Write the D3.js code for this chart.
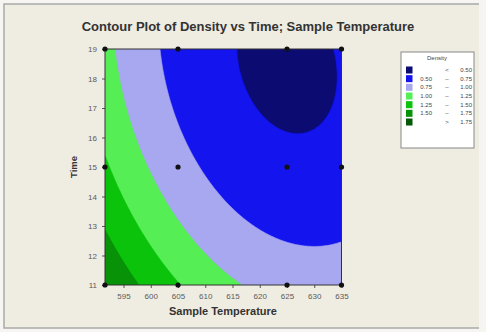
<!DOCTYPE html>
<html>
<head>
<meta charset="utf-8">
<script src="https://cdn.jsdelivr.net/npm/d3@7"></script>
<style>
  html, body { margin: 0; padding: 0; background: #f6f5f1; }
  svg { display: block; }
  text { font-family: "Liberation Sans", Arial, sans-serif; }
</style>
</head>
<body>
<svg id="chart" width="486" height="332"></svg>
<script>
// ---- data ----
const chartTitle = "Contour Plot of Density vs Time; Sample Temperature";
const xLabel = "Sample Temperature";
const yLabel = "Time";
const temperatureDomain = [591.6, 635];
const timeDomain = [11, 19];
const xTickValues = [595, 600, 605, 610, 615, 620, 625, 630, 635];
const yTickValues = [11, 12, 13, 14, 15, 16, 17, 18, 19];
const designTemperatures = [591.6, 605, 625, 635];
const designTimes = [11, 15, 19];
// fitted response surface (centered quadratic)
const surfaceCenter = [625.0, 18.58];            // [temperature, time]
const surfaceCoefficients = [0.455, 0.000557, 0.00785, 0.000887]; // const, dT^2, dt^2, dT*dt
const contourLevels = [0.5, 0.75, 1.0, 1.25, 1.5, 1.75];
const levelColors = ["#0b0b72", "#1414ee", "#a8a8f0", "#55ef55", "#0cc30c", "#079207", "#045a04"];
const legendTitle = "Density";
const legendLeft  = ["", "0.50", "0.75", "1.00", "1.25", "1.50", ""];
const legendMid   = ["<", "\u2013", "\u2013", "\u2013", "\u2013", "\u2013", ">"];
const legendRight = ["0.50", "0.75", "1.00", "1.25", "1.50", "1.75", "1.75"];

// ---- layout ----
const svg = d3.select("#chart");
const plot = { x0: 105, y0: 49, x1: 341.5, y1: 285 };
const pw = plot.x1 - plot.x0, ph = plot.y1 - plot.y0;

// outer frame
svg.append("rect").attr("x", 4).attr("y", 4).attr("width", 475).attr("height", 324).attr("fill", "#efece2");
svg.append("path").attr("d", "M479,4 H4 V328 H479").attr("fill", "none").attr("stroke", "#a9a9a9").attr("stroke-width", 1.5);

const x = d3.scaleLinear().domain(temperatureDomain).range([plot.x0, plot.x1]);
const y = d3.scaleLinear().domain(timeDomain).range([plot.y1, plot.y0]);

function density(T, t) {
  const dT = T - surfaceCenter[0], dt = t - surfaceCenter[1];
  const c = surfaceCoefficients;
  return c[0] + c[1] * dT * dT + c[2] * dt * dt + c[3] * dT * dt;
}

// grid
const nx = 240, ny = 240;
const values = new Array(nx * ny);
for (let j = 0; j < ny; j++) {
  const t = y.invert(plot.y0 + (j + 0.5) * ph / ny);
  for (let i = 0; i < nx; i++) {
    const T = x.invert(plot.x0 + (i + 0.5) * pw / nx);
    values[j * nx + i] = density(T, t);
  }
}
const contours = d3.contours().size([nx, ny]).thresholds(contourLevels)(values);
const proj = d3.geoTransform({
  point: function(px, py) { this.stream.point(plot.x0 + px * pw / nx, plot.y0 + py * ph / ny); }
});
const path = d3.geoPath(proj);

svg.append("clipPath").attr("id", "clip").append("rect")
  .attr("x", plot.x0).attr("y", plot.y0).attr("width", pw).attr("height", ph);

const g = svg.append("g").attr("clip-path", "url(#clip)");
g.append("rect").attr("x", plot.x0).attr("y", plot.y0).attr("width", pw).attr("height", ph).attr("fill", levelColors[0]);
g.selectAll("path.c").data(contours).join("path")
  .attr("class", "c")
  .attr("d", path)
  .attr("fill", (d, i) => levelColors[i + 1])
  .attr("stroke", (d, i) => levelColors[i + 1])
  .attr("stroke-width", 0.6);

// axes
const xAxis = d3.axisBottom(x).tickValues(xTickValues).tickSize(3).tickPadding(5).tickFormat(d3.format("d"));
const yAxis = d3.axisLeft(y).tickValues(yTickValues).tickSize(3).tickPadding(5).tickFormat(d3.format("d"));
const gx = svg.append("g").attr("transform", `translate(0,${plot.y1})`).call(xAxis);
const gy = svg.append("g").attr("transform", `translate(${plot.x0},0)`).call(yAxis);
[gx, gy].forEach(a => {
  a.select(".domain").remove();
  a.selectAll("line").attr("stroke", "#555");
  a.selectAll("text").attr("font-size", 8).attr("fill", "#5a5a5a")
    .attr("font-family", "'Liberation Sans', Arial, sans-serif");
});

// plot border
svg.append("rect").attr("x", plot.x0).attr("y", plot.y0).attr("width", pw).attr("height", ph)
  .attr("fill", "none").attr("stroke", "#333").attr("stroke-width", 1);

// design points
const pts = [];
designTimes.forEach(t => designTemperatures.forEach(T => pts.push([T, t])));
svg.append("g").selectAll("circle").data(pts).join("circle")
  .attr("cx", d => x(d[0])).attr("cy", d => y(d[1])).attr("r", 2.6).attr("fill", "#111");

// titles
svg.append("text").attr("x", 248).attr("y", 31).attr("text-anchor", "middle")
  .attr("font-size", 13).attr("font-weight", "bold").attr("fill", "#333").text(chartTitle);
svg.append("text").attr("x", 223).attr("y", 315).attr("text-anchor", "middle")
  .attr("font-size", 11).attr("font-weight", "bold").attr("fill", "#333").text(xLabel);
svg.append("text").attr("transform", "translate(77,167) rotate(-90)").attr("text-anchor", "middle")
  .attr("font-size", 9.5).attr("font-weight", "bold").attr("fill", "#333").text(yLabel);

// legend
const lg = svg.append("g");
lg.append("rect").attr("x", 401).attr("y", 52).attr("width", 73).attr("height", 96)
  .attr("fill", "#fff").attr("stroke", "#888").attr("stroke-width", 1);
lg.append("text").attr("x", 437).attr("y", 60).attr("text-anchor", "middle")
  .attr("font-size", 6).attr("fill", "#444").text(legendTitle);
const rowY = d3.scaleLinear().domain([0, 6]).range([70, 122]);
levelColors.forEach((c, i) => {
  const cy = rowY(i);
  lg.append("rect").attr("x", 406).attr("y", cy - 3.5).attr("width", 6.5).attr("height", 7).attr("fill", c);
  lg.append("text").attr("x", 432).attr("y", cy + 2).attr("text-anchor", "end").attr("font-size", 6).attr("fill", "#444").text(legendLeft[i]);
  lg.append("text").attr("x", 447).attr("y", cy + 2).attr("text-anchor", "middle").attr("font-size", 6).attr("fill", "#444").text(legendMid[i]);
  lg.append("text").attr("x", 472).attr("y", cy + 2).attr("text-anchor", "end").attr("font-size", 6).attr("fill", "#444").text(legendRight[i]);
});
</script>
</body>
</html>
